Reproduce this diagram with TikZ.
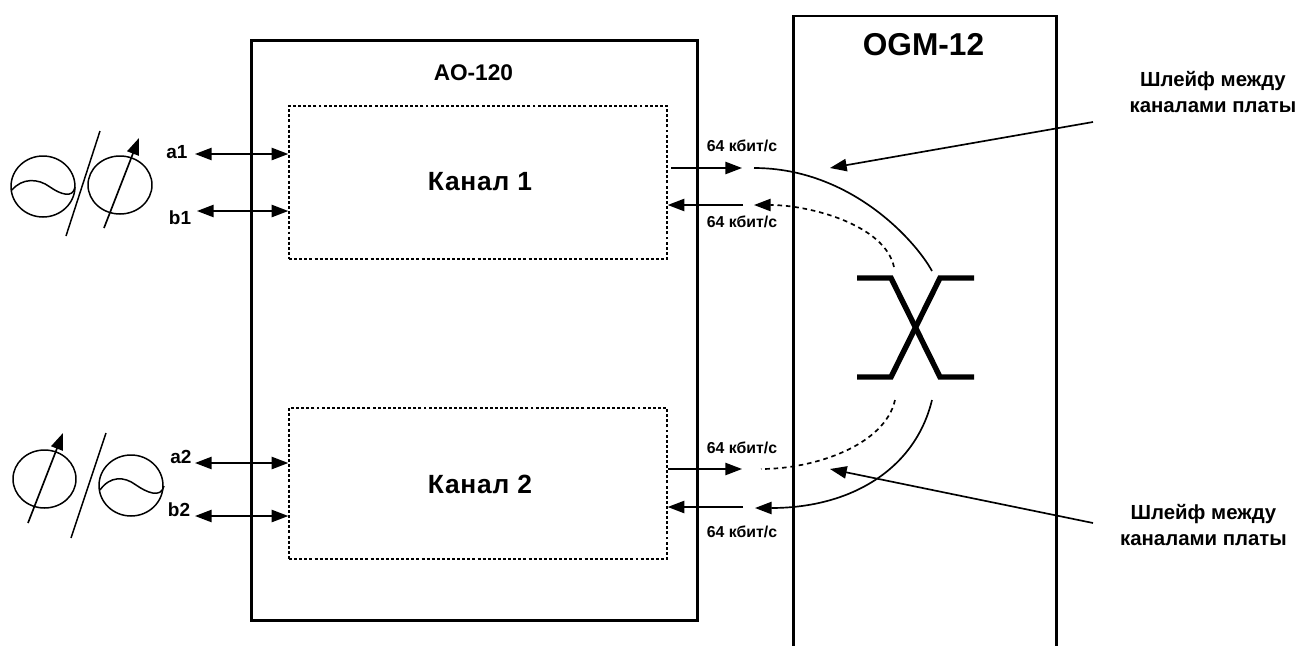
\documentclass[tikz,border=0pt]{standalone}
\usepackage{fontspec}
\setmainfont{Liberation Sans}
\usepackage{xcolor}
\usetikzlibrary{arrows.meta,positioning,calc}
\tikzset{
  boxline/.style={line width=1.7pt,draw=black},
  chanbox/.style={draw=black,line width=0.85pt,dash pattern=on 1.7pt off 1.2pt},
  chan label/.style={font=\fontsize{15}{18}\selectfont\bfseries\addfontfeature{LetterSpace=3}},
  tiny label/.style={font=\fontsize{9}{11}\selectfont\bfseries},
  port label/.style={font=\fontsize{10.8}{13}\selectfont\bfseries},
  note label/.style={font=\fontsize{11.6}{14.3}\selectfont\bfseries,align=center},
  head/.tip={Triangle[length=9.5pt,width=7pt]},
  link/.style={line width=0.95pt,-head},
  biglink/.style={line width=0.95pt,head-head},
  curve/.style={line width=0.95pt},
  dotcurve/.style={line width=0.95pt,dash pattern=on 2.6pt off 2.2pt},
  xbar/.style={line width=3.1pt},
  thinline/.style={line width=0.85pt}
}
\begin{document}
\begin{tikzpicture}[x=0.02cm,y=-0.02cm,>=Latex]
  \useasboundingbox (0,0) rectangle (1299,646);
  % boxes
  \node[boxline,draw,minimum width=8.94cm,minimum height=11.62cm] (aobox) at (474.5,330.5) {};
  \node[chanbox,minimum width=7.56cm,minimum height=3.06cm] (chan1) at (478,182.5) {};
  \node[chanbox,minimum width=7.56cm,minimum height=3.02cm] (chan2) at (478,483.5) {};
  \node[chan label] (chan1label) at (480,182) {Канал 1};
  \node[chan label] (chan2label) at (480,484) {Канал 2};
  \node[font=\fontsize{12.9}{15}\selectfont\bfseries] (aolabel) at (473.5,73) {АО-120};
  \draw[boxline] (793,646) -- (793,16) -- (1056,16) -- (1056,646);
  \node[font=\fontsize{18}{21}\selectfont\bfseries] (ogmlabel) at (923.5,45) {OGM-12};
  % upper source
  \draw[thinline] (43,186.5) ellipse [x radius=32,y radius=30.5];
  \draw[thinline] (12,190) .. controls (22,178) and (38,178) .. (50,187)
    .. controls (60,194) and (73,199) .. (75,187);
  \draw[thinline] (66,236) -- (100,131);
  \draw[thinline] (120,185) ellipse [x radius=32,y radius=29];
  \draw[link] (104,228) -- (139,138);
  % lower source
  \draw[thinline] (44.5,479) ellipse [x radius=31.5,y radius=29];
  \draw[link] (28,523) -- (63,433);
  \draw[thinline] (71,538) -- (106,433);
  \draw[thinline] (131,485.5) ellipse [x radius=32,y radius=30.5];
  \draw[thinline] (100,490) .. controls (110,476) and (124,476) .. (136,485)
    .. controls (146,492) and (161,499) .. (164,486);
  % ports
  \node[port label] (a1) at (177,152) {a1};
  \node[port label] (b1) at (180,218) {b1};
  \node[port label] (a2) at (181,457) {a2};
  \node[port label] (b2) at (179,510) {b2};
  \coordinate (a1end) at (195,154);
  \coordinate (b1end) at (197,211);
  \coordinate (a2end) at (195,463);
  \coordinate (b2end) at (195,516);
  \draw[biglink] (a1end) -- (a1end -| chan1.west);
  \draw[biglink] (b1end) -- (b1end -| chan1.west);
  \draw[biglink] (a2end) -- (a2end -| chan2.west);
  \draw[biglink] (b2end) -- (b2end -| chan2.west);
  % channel links
  \coordinate (out1a) at (671,168);
  \coordinate (out1b) at (742,168);
  \coordinate (ret1a) at (743,205);
  \coordinate (ret1b) at (ret1a -| chan1.east);
  \coordinate (out2b) at (742,469);
  \coordinate (out2a) at (out2b -| chan2.east);
  \coordinate (ret2a) at (743,507);
  \coordinate (ret2b) at (ret2a -| chan2.east);
  \draw[link] (out1a) -- (out1b);
  \draw[link] (ret1a) -- (ret1b);
  \draw[link] (out2a) -- (out2b);
  \draw[link] (ret2a) -- (ret2b);
  \node[tiny label] (rate1) at (742,146) {64 кбит/с};
  \node[tiny label] (rate2) at (742,222) {64 кбит/с};
  \node[tiny label] (rate3) at (742,448) {64 кбит/с};
  \node[tiny label] (rate4) at (742,532) {64 кбит/с};
  % loop curves
  \coordinate (loop1) at (754,168);
  \coordinate (loop2) at (932,271);
  \coordinate (loop3) at (894,267);
  \coordinate (loop4) at (754,205);
  \coordinate (loop5) at (932,400);
  \coordinate (loop6) at (755,508);
  \coordinate (loop7) at (895,400);
  \coordinate (loop8) at (761,469);
  \draw[curve] (loop1) .. controls (850,168) and (915,240) .. (loop2);
  \draw[dotcurve,-head] (loop3) .. controls (885,225) and (810,205) .. (loop4);
  \draw[curve,-head] (loop5) .. controls (915,470) and (850,508) .. (loop6);
  \draw[dotcurve] (loop7) .. controls (885,445) and (815,469) .. (loop8);
  % crossing
  \draw[xbar] (857,278) -- (891,278) -- (940,377) -- (974,377);
  \draw[xbar] (974,278) -- (940,278) -- (891,377) -- (857,377);
  % notes
  \node[note label] (note1) at (1213,92) {Шлейф между\\каналами платы};
  \node[note label] (note2) at (1203.5,525) {Шлейф между\\каналами платы};
  \coordinate (tip1) at (830,168);
  \coordinate (tip2) at (830,469);
  \coordinate (tail1) at (1093,122);
  \coordinate (tail2) at (1093,523);
  \draw[link] (tail1) -- (tip1);
  \draw[link] (tail2) -- (tip2);
\end{tikzpicture}
\end{document}
